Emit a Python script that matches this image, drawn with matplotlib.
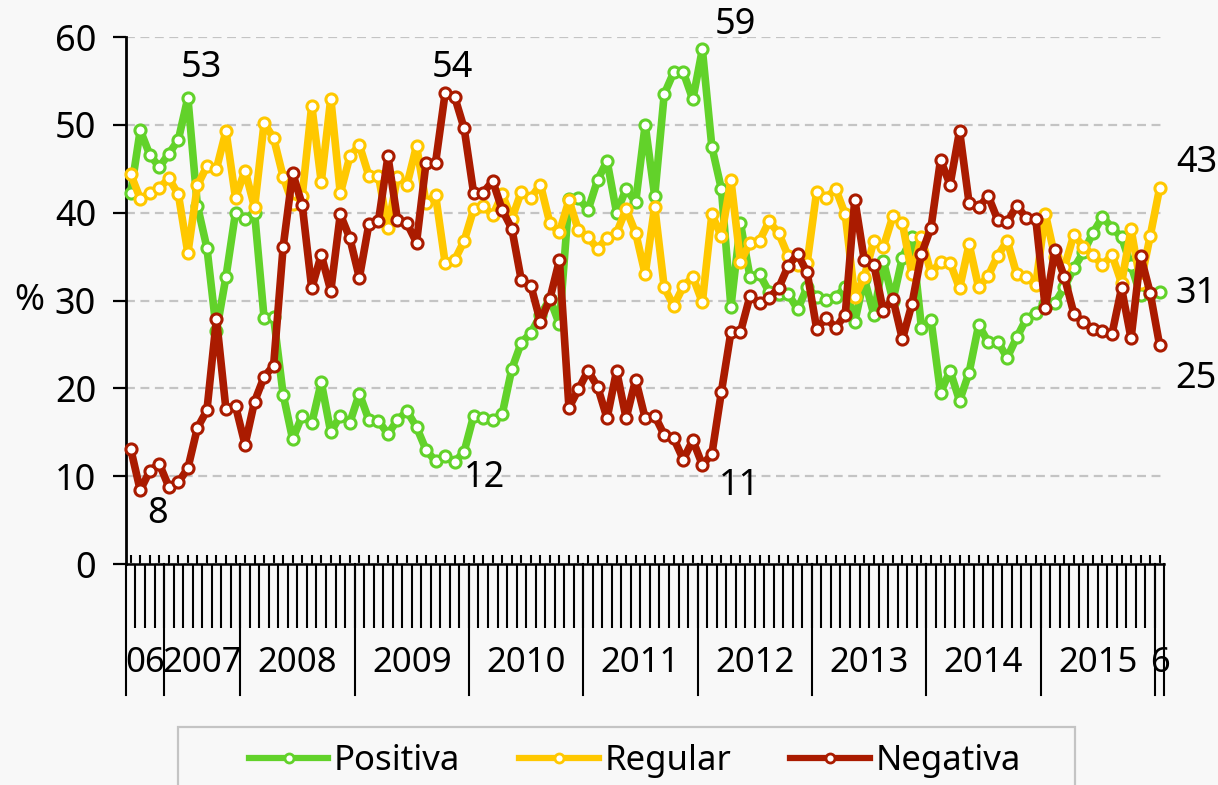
import numpy as np
import matplotlib.pyplot as plt
from matplotlib.lines import Line2D
from matplotlib.patches import Rectangle

plt.rcParams['font.family'] = ['Noto Sans', 'DejaVu Sans']

# year labels and number of survey points in each year
years = ['06', '2007', '2008', '2009', '2010', '2011', '2012', '2013', '2014', '2015', '6']
points_per_year = [4, 8, 12, 12, 12, 12, 12, 12, 12, 12, 1]

positiva = [42.2, 49.4, 46.6, 45.2, 46.7, 48.3, 53.1, 40.8, 36.0, 26.5,
            32.7, 40.0, 39.3, 40.0, 28.0, 28.1, 19.3, 14.2, 16.9, 16.0,
            20.7, 15.0, 16.9, 16.1, 19.4, 16.4, 16.3, 14.8, 16.4, 17.4,
            15.6, 13.0, 11.7, 12.3, 11.6, 12.8, 16.9, 16.6, 16.4, 17.1,
            22.2, 25.2, 26.3, 28.3, 30.2, 27.3, 41.6, 41.7, 40.3, 43.7,
            45.9, 40.0, 42.7, 41.2, 50.0, 41.9, 53.5, 56.0, 56.0, 52.9,
            58.6, 47.5, 42.7, 29.3, 38.8, 32.7, 33.0, 31.0, 30.8, 30.8,
            29.0, 31.5, 30.4, 30.1, 30.4, 31.5, 27.6, 32.5, 28.4, 34.5,
            30.0, 34.9, 37.2, 26.9, 27.8, 19.5, 22.0, 18.6, 21.8, 27.2,
            25.3, 25.3, 23.5, 25.8, 27.9, 28.6, 29.6, 29.7, 31.5, 33.7,
            35.5, 37.7, 39.5, 38.3, 37.2, 34.0, 30.6, 30.8, 31.0]

regular = [44.4, 41.6, 42.2, 42.8, 43.9, 42.1, 35.4, 43.1, 45.3, 45.0,
           49.3, 41.7, 44.8, 40.6, 50.2, 48.5, 44.1, 41.0, 41.9, 52.2,
           43.5, 53.0, 42.2, 46.4, 47.7, 44.2, 44.2, 38.3, 44.1, 43.2,
           47.6, 41.1, 42.0, 34.3, 34.6, 36.8, 40.4, 40.8, 39.7, 42.1,
           39.3, 42.4, 41.7, 43.2, 38.8, 37.8, 41.4, 38.0, 37.2, 35.9,
           37.1, 37.7, 40.4, 37.7, 33.0, 40.7, 31.5, 29.4, 31.6, 32.7,
           29.8, 39.8, 37.3, 43.7, 34.4, 36.6, 36.8, 39.0, 37.7, 35.1,
           34.0, 34.3, 42.4, 41.7, 42.7, 39.8, 30.4, 32.7, 36.8, 36.1,
           39.6, 38.8, 33.0, 37.2, 33.1, 34.4, 34.3, 31.4, 36.4, 31.5,
           32.8, 35.1, 36.8, 33.0, 32.7, 31.8, 39.9, 35.0, 33.8, 37.5,
           36.1, 35.2, 34.0, 35.2, 32.0, 38.1, 32.0, 37.3, 42.8]

negativa = [13.1, 8.4, 10.6, 11.4, 8.8, 9.3, 10.9, 15.5, 17.5, 27.9,
            17.6, 18.0, 13.6, 18.5, 21.3, 22.6, 36.1, 44.5, 40.9, 31.4,
            35.2, 31.1, 39.8, 37.1, 32.6, 38.7, 39.0, 46.4, 39.2, 38.8,
            36.6, 45.7, 45.7, 53.6, 53.2, 49.6, 42.2, 42.3, 43.6, 40.3,
            38.2, 32.3, 31.7, 27.6, 30.2, 34.6, 17.8, 19.9, 22.0, 20.2,
            16.6, 22.0, 16.6, 21.0, 16.6, 16.9, 14.7, 14.3, 11.9, 14.1,
            11.3, 12.5, 19.6, 26.4, 26.4, 30.5, 29.7, 30.3, 31.4, 33.9,
            35.3, 33.2, 26.8, 28.0, 26.9, 28.4, 41.5, 34.6, 34.1, 28.8,
            30.2, 25.6, 29.6, 35.3, 38.3, 46.0, 43.2, 49.3, 41.1, 40.6,
            41.9, 39.2, 38.9, 40.8, 39.4, 39.3, 29.1, 35.7, 32.7, 28.5,
            27.5, 26.8, 26.5, 26.2, 31.4, 25.7, 35.1, 30.9, 24.9]

bg = '#f8f8f8'
green = '#62d22a'
yellow = '#ffc800'
red = '#aa1b00'
fs = 26

fig = plt.figure(figsize=(12.18, 7.85), dpi=100, facecolor=bg)
ax = fig.add_axes([0.1034, 0.2815, 0.8526, 0.6713], facecolor=bg)

x = np.arange(len(positiva))
series = {'Positiva': (positiva, green),
          'Regular': (regular, yellow),
          'Negativa': (negativa, red)}
for name, (vals, col) in series.items():
    ax.plot(x, vals, color=col, lw=5.5, marker='o', ms=8, mfc='white',
            mec=col, mew=2.2, solid_joinstyle='round', clip_on=False, zorder=3)

ax.set_xlim(-0.5, len(x) - 0.5)
ax.set_ylim(0, 60)
ax.set_yticks(range(0, 61, 10))
ax.yaxis.grid(True, color='#c4c4c4', lw=1.6, ls=(0, (4, 2.5)))
ax.set_axisbelow(True)

for s in ['top', 'right']:
    ax.spines[s].set_visible(False)
ax.spines['left'].set_linewidth(2)
ax.spines['bottom'].set_linewidth(1.8)

ax.tick_params(axis='y', length=9.5, width=1.6, pad=12, labelsize=fs)
ax.set_xticks(x)
ax.set_xticks(np.arange(0.5, len(x) - 0.5, 1), minor=True)
ax.tick_params(axis='x', which='major', direction='in', length=6.5, width=1.5,
               labelbottom=False)
ax.tick_params(axis='x', which='minor', direction='out', length=46, width=1.5)

# year separators and labels under the axis
tr = ax.get_xaxis_transform()
edges = np.concatenate([[0], np.cumsum(points_per_year)]) - 0.5
for b in edges:
    ax.plot([b, b], [0, -0.249], transform=tr, color='black', lw=1.5, clip_on=False)
for i, lab in enumerate(years):
    ax.text((edges[i] + edges[i + 1]) / 2, -0.188, lab, transform=tr,
            ha='center', va='center', fontsize=25)

ax.text(-0.093, 0.5, '%', transform=ax.transAxes, ha='center', va='center', fontsize=fs)

# value labels: (series, index, dx, dy in pixels)
notes = [('Positiva', 6, 14, 30), ('Negativa', 1, 17, -24),
         ('Negativa', 33, 7, 25), ('Positiva', 34, 30, -16),
         ('Positiva', 60, 33, 24), ('Negativa', 60, 37, -21),
         ('Regular', 108, 37, 25), ('Positiva', 108, 36, -2),
         ('Negativa', 108, 36, -34)]
for name, i, dx, dy in notes:
    v = series[name][0][i]
    ax.annotate(f'{round(v)}', xy=(i, v), xytext=(dx, dy), textcoords='offset pixels',
                ha='center', va='center', fontsize=fs, annotation_clip=False)

# legend
fig.add_artist(Rectangle((178 / 1218, -0.05), (1075 - 178) / 1218, 58 / 785 + 0.05,
                         transform=fig.transFigure, facecolor='none',
                         edgecolor='#c4c4c4', lw=1.6))
handles = [Line2D([], [], color=col, lw=4.5, marker='o', ms=6.5, mfc='white', mec=col, mew=2)
           for vals, col in series.values()]
fig.legend(handles, list(series.keys()), loc='center', bbox_to_anchor=(0.521, 0.031),
           ncol=3, frameon=False, fontsize=25, handlelength=2.3, handletextpad=0.15,
           columnspacing=1.7, borderpad=0)

fig.savefig('out.png', dpi=100, facecolor=bg)
